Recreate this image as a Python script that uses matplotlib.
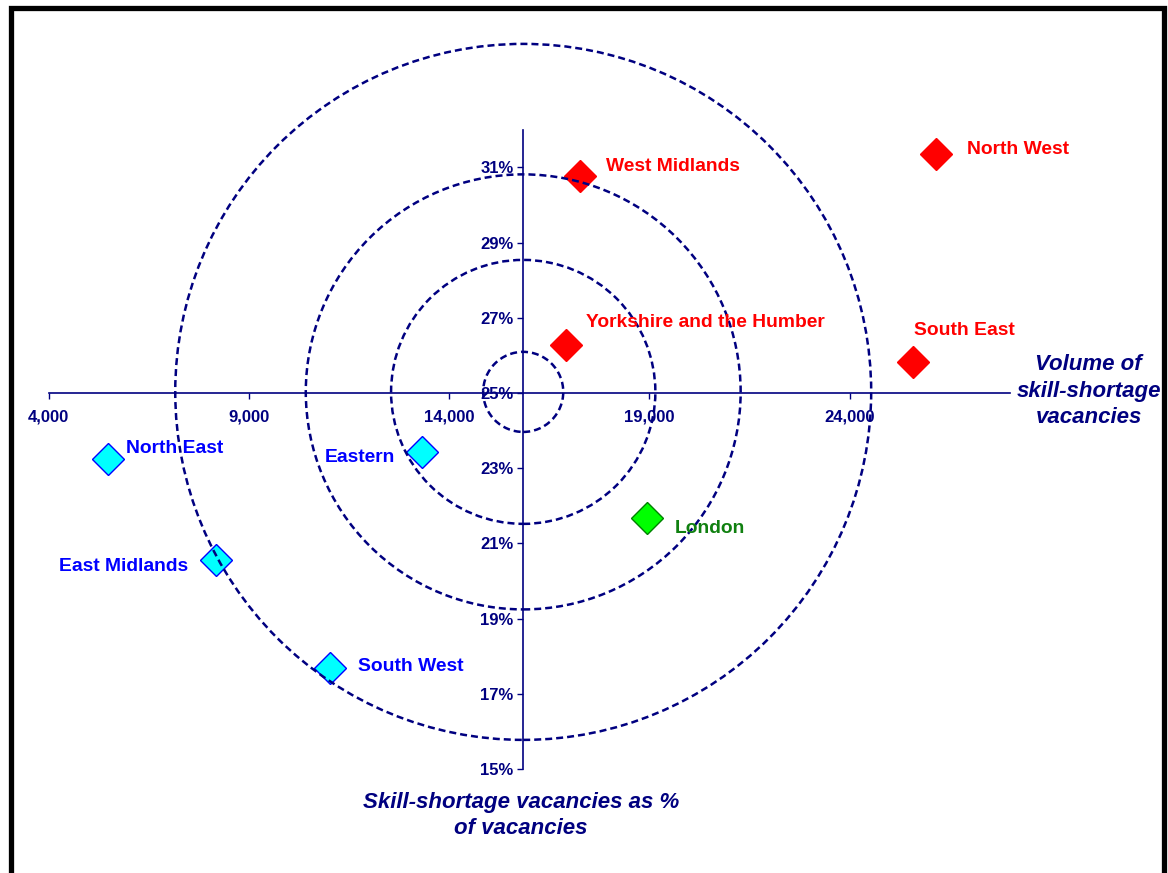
import matplotlib.pyplot as plt
from matplotlib.patches import Ellipse, Rectangle
from matplotlib.ticker import FuncFormatter

plt.rcParams['font.family'] = ['Liberation Sans', 'DejaVu Sans']

# regional data
regions = ['North West', 'West Midlands', 'Yorkshire and the Humber', 'South East',
           'London', 'Eastern', 'North East', 'East Midlands', 'South West']
volume = [26160, 17270, 16910, 25580, 18940, 13320, 5480, 8170, 11030]
share = [31.36, 30.77, 26.28, 25.82, 21.68, 23.43, 23.24, 20.56, 17.69]
group = ['high', 'high', 'high', 'high', 'london', 'low', 'low', 'low', 'low']

x_ticks = [4000, 9000, 14000, 19000, 24000]
y_ticks = [15, 17, 19, 21, 23, 25, 27, 29, 31]

# where the two axes cross (centre of the rings)
cross_x, cross_y = 15850, 25.0
ring_w = [2000, 6600, 10860, 17380]
ring_h = [2.13, 7.02, 11.57, 18.51]

navy = '#000080'
styles = {
    'high': dict(face='#ff0000', edge='#ff0000', text='#ff0000'),
    'low': dict(face='#00ffff', edge='#0000ff', text='#0000ff'),
    'london': dict(face='#00ff00', edge='#008000', text='#108010'),
}
# label offsets in points (dx, dy, ha)
offsets = {
    'North West': (22, 3, 'left'),
    'West Midlands': (19, 7, 'left'),
    'Yorkshire and the Humber': (15, 16, 'left'),
    'South East': (1, 23, 'left'),
    'London': (20, -8, 'left'),
    'Eastern': (-19, -4, 'right'),
    'North East': (13, 8, 'left'),
    'East Midlands': (-20, -5, 'right'),
    'South West': (20, 1, 'left'),
}

fig = plt.figure(figsize=(11.68, 8.73), dpi=100)
ax = fig.add_axes([0.0417, 0.1191, 0.8228, 0.7322])
ax.set_xlim(4000, 28000)
ax.set_ylim(15, 32)

for s in ['top', 'right']:
    ax.spines[s].set_visible(False)
ax.spines['left'].set_position(('data', cross_x))
ax.spines['bottom'].set_position(('data', cross_y))
for s in ['left', 'bottom']:
    ax.spines[s].set_color(navy)
    ax.spines[s].set_linewidth(1.2)

ax.set_xticks(x_ticks)
ax.set_yticks(y_ticks)
ax.xaxis.set_major_formatter(FuncFormatter(lambda v, p: f'{int(v):,}'))
ax.yaxis.set_major_formatter(FuncFormatter(lambda v, p: f'{int(v)}%'))
ax.tick_params(axis='both', colors=navy, length=4, width=1, labelsize=12)
ax.tick_params(axis='x', pad=8)
ax.tick_params(axis='y', pad=3)
for lab in ax.get_xticklabels() + ax.get_yticklabels():
    lab.set_fontweight('bold')
    lab.set_color(navy)

for w, h in zip(ring_w, ring_h):
    ax.add_patch(Ellipse((cross_x, cross_y + 0.03), w, h, fill=False, edgecolor=navy,
                         linewidth=1.8, linestyle=(0, (2.8, 1.6)), zorder=4, clip_on=False))

for name, x, y, g in zip(regions, volume, share, group):
    st = styles[g]
    ax.plot(x, y, marker='D', markersize=16.5, markerfacecolor=st['face'],
            markeredgecolor=st['edge'], markeredgewidth=1, linestyle='none', zorder=3)
    dx, dy, ha = offsets[name]
    ax.annotate(name, (x, y), xytext=(dx, dy), textcoords='offset points',
                ha=ha, va='center', fontsize=13.9, fontweight='bold', color=st['text'], zorder=5)

fig.text(0.932, 0.552, 'Volume of\nskill-shortage\nvacancies', ha='center', va='center',
         fontsize=16, fontweight='bold', fontstyle='italic', color=navy, linespacing=1.35)
fig.text(0.446, 0.066, 'Skill-shortage vacancies as %\nof vacancies', ha='center', va='center',
         fontsize=16, fontweight='bold', fontstyle='italic', color=navy, linespacing=1.35)

fig.add_artist(Rectangle((0.009, -0.05), 0.988, 1.0403, transform=fig.transFigure,
                         fill=False, edgecolor='black', linewidth=3.8, clip_on=False))

fig.savefig('out.png', dpi=100)
